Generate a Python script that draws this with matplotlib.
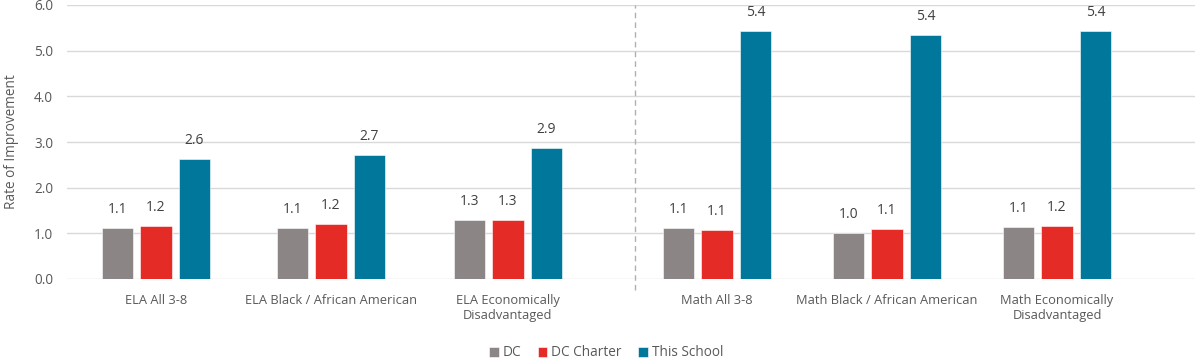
import matplotlib
matplotlib.use("Agg")
import matplotlib.pyplot as plt
import numpy as np

plt.rcParams['font.family'] = ['Open Sans', 'DejaVu Sans']

categories = ["ELA All 3-8", "ELA Black / African American", "ELA Economically\nDisadvantaged",
              "Math All 3-8", "Math Black / African American", "Math Economically\nDisadvantaged"]
series_names = ["DC", "DC Charter", "This School"]
dc = [1.12, 1.11, 1.29, 1.12, 1.00, 1.13]
dc_charter = [1.16, 1.21, 1.29, 1.08, 1.10, 1.16]
this_school = [2.63, 2.71, 2.86, 5.43, 5.35, 5.43]
labels_dc = ["1.1", "1.1", "1.3", "1.1", "1.0", "1.1"]
labels_charter = ["1.2", "1.2", "1.3", "1.1", "1.1", "1.2"]
labels_school = ["2.6", "2.7", "2.9", "5.4", "5.4", "5.4"]
yticks = [0, 1, 2, 3, 4, 5, 6]

colors = ["#8b8685", "#e52b25", "#00779b"]
text_color = "#595959"

# layout (horizontal positions in pixel-like units)
centers = np.array([156, 331, 508, 717, 887, 1057])
step = 38.5
width = 31.5
divider_x = 635

fig = plt.figure(figsize=(11.99, 3.6), dpi=100)
ax = fig.add_axes([67/1199, 1-279/360, (1195-67)/1199, (279-5)/360])

series = [dc, dc_charter, this_school]
lab = [labels_dc, labels_charter, labels_school]
for i, (vals, c, name, ls) in enumerate(zip(series, colors, series_names, lab)):
    xs = centers + (i - 1) * step
    bars = ax.bar(xs, vals, width=width, color=c, label=name, zorder=3,
                  edgecolor="white", linewidth=0.4)
    for b, t in zip(bars, ls):
        ax.annotate(t, (b.get_x() + b.get_width()/2, b.get_height()),
                    xytext=(0, 8), textcoords="offset points",
                    ha="center", va="bottom", fontsize=10, color="#404040")

ax.set_xlim(67, 1195)
ax.set_ylim(0, 6)
ax.set_yticks(yticks)
ax.set_yticklabels([f"{v:.1f}" for v in yticks])
ax.yaxis.grid(True, color="#d9d9d9", linewidth=1, zorder=0)
ax.set_axisbelow(True)
for s in ax.spines.values():
    s.set_visible(False)
ax.tick_params(axis="y", length=0, pad=10, labelsize=9.8, labelcolor=text_color)
ax.set_xticks(centers)
ax.set_xticklabels(categories, linespacing=1.25)
ax.tick_params(axis="x", length=0, pad=10.5, labelsize=9.3, labelcolor=text_color)
ax.set_ylabel("Rate of Improvement", fontsize=9.8, color=text_color, labelpad=11)

ax.plot([divider_x, divider_x], [-0.25, 6], color="#b0b0b0", linestyle=(0, (4, 3)),
        linewidth=1, clip_on=False, zorder=1)

leg = fig.legend(loc="center", bbox_to_anchor=(606/1199, 1-353/360), ncol=3, frameon=False,
                 fontsize=9.8, handlelength=0.7, handleheight=0.7, handletextpad=0.3,
                 columnspacing=1.2, labelcolor=text_color)

fig.savefig("out.png", dpi=100)
